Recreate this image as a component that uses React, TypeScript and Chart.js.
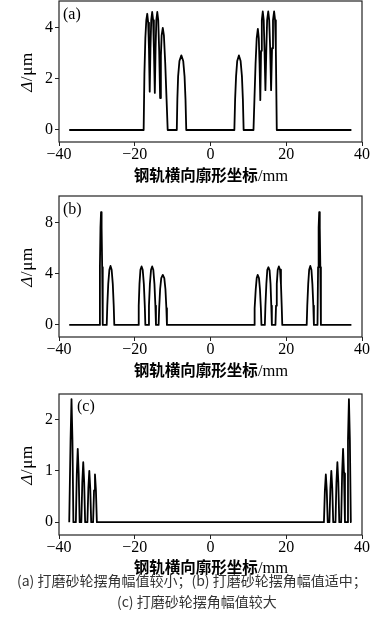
import React, { useEffect, useRef } from "react";
import { Chart, registerables } from "chart.js";

Chart.register(...registerables);

// ---------- data ----------
const xTickValues = [-40, -20, 0, 20, 40];

const aX = [
  -37.3, -17.65, -17.45, -17.2, -16.95, -16.7, -16.45, -16.25, -16.05, -15.85, -15.65, -15.4, -15.15, -14.95, -14.7,
  -14.5, -14.3, -14.05, -13.8, -13.55, -13.3, -13.1, -12.9, -12.6, -12.3, -11.95, -11.6, -11.3,
  -8.9, -8.75, -8.55, -8.2, -7.7, -7.2, -6.85, -6.6, -6.4,
  6.3, 6.5, 6.75, 7.05, 7.5, 7.95, 8.3, 8.55, 8.75,
  11.35, 11.6, 11.9, 12.2, 12.5, 12.75, 12.95, 13.15, 13.35, 13.55, 13.8, 14.05, 14.25, 14.5, 14.75, 14.95, 15.25,
  15.5, 15.75, 16.0, 16.25, 16.5, 16.8, 17.05, 17.25, 17.5, 37.2,
];
const aY = [
  0, 0, 2.2, 3.6, 4.3, 4.55, 4.2, 3.2, 1.5, 3.2, 4.3, 4.62, 4.3, 3.2, 1.45,
  3.2, 4.3, 4.62, 4.3, 3.1, 1.25, 2.9, 3.7, 4.0, 3.7, 2.6, 1.2, 0,
  0, 1.2, 2.1, 2.7, 2.92, 2.7, 2.1, 1.2, 0,
  0, 1.2, 2.1, 2.7, 2.92, 2.7, 2.1, 1.2, 0,
  0, 1.2, 2.6, 3.6, 3.96, 3.6, 2.6, 1.17, 3.1, 4.3, 4.64, 4.3, 3.2, 1.56, 3.2, 4.3, 4.64,
  4.3, 3.2, 1.56, 3.2, 4.3, 4.64, 4.3, 3.2, 0, 0,
];
const aTicks = [0, 2, 4];

const bX = [
  -37.3, -29.35, -29.2, -29.05, -28.9, -28.75, -28.6, -28.45,
  -27.4, -27.25, -27.0, -26.7, -26.4, -26.1, -25.8, -25.55, -25.4,
  -19.1, -18.95, -18.75, -18.5, -18.2, -17.9, -17.6, -17.35, -17.2,
  -16.4, -16.25, -16.0, -15.7, -15.4, -15.1, -14.8, -14.55, -14.4,
  -13.7, -13.55, -13.3, -13.0, -12.6, -12.2, -11.9, -11.65, -11.5,
  11.5, 11.65, 11.95, 12.2, 12.45, 12.8, 13.05, 13.3, 13.45,
  14.35, 14.5, 14.75, 15.0, 15.3, 15.6, 15.85, 16.05, 16.2,
  17.15, 17.3, 17.5, 17.75, 18.05, 18.35, 18.6, 18.8, 18.95,
  25.4, 25.55, 25.8, 26.05, 26.35, 26.65, 26.9, 27.15, 27.3,
  28.25, 28.4, 28.55, 28.7, 28.85, 29.0, 29.15, 37.2,
];
const bY = [
  0, 0, 4.5, 7.6, 8.8, 7.6, 4.5, 0,
  0, 1.5, 3.2, 4.3, 4.6, 4.3, 3.2, 1.5, 0,
  0, 1.5, 3.2, 4.3, 4.56, 4.3, 3.2, 1.5, 0,
  0, 1.5, 3.2, 4.3, 4.56, 4.3, 3.2, 1.5, 0,
  0, 1.3, 2.8, 3.65, 3.9, 3.65, 2.8, 1.3, 0,
  0, 1.3, 2.8, 3.65, 3.9, 3.65, 2.8, 1.3, 0,
  0, 1.5, 3.2, 4.3, 4.5, 4.25, 3.2, 1.5, 0,
  0, 1.5, 3.2, 4.3, 4.56, 4.3, 3.2, 1.5, 0,
  0, 1.5, 3.2, 4.3, 4.6, 4.3, 3.2, 1.5, 0,
  0, 4.5, 7.6, 8.8, 7.6, 4.5, 0, 0,
];
const bTicks = [0, 4, 8];

const cX = [
  -37.3, -37.2, -36.95, -36.7, -36.45, -36.2,
  -35.55, -35.3, -35.05, -34.8, -34.55,
  -34.1, -33.85, -33.6, -33.35, -33.1,
  -32.5, -32.25, -32.0, -31.75, -31.5,
  -31.0, -30.75, -30.5, -30.25, -30.0,
  29.95, 30.2, 30.45, 30.7, 30.95,
  31.4, 31.65, 31.9, 32.15, 32.4,
  33.0, 33.25, 33.5, 33.75, 34.0,
  34.5, 34.75, 35.0, 35.25, 35.5,
  36.05, 36.3, 36.55, 36.8, 37.05, 37.2,
];
const cY = [
  0, 0, 1.6, 2.4, 1.6, 0,
  0, 0.95, 1.43, 0.95, 0,
  0, 0.78, 1.17, 0.78, 0,
  0, 0.66, 1.0, 0.66, 0,
  0, 0.62, 0.93, 0.62, 0,
  0, 0.62, 0.93, 0.62, 0,
  0, 0.66, 1.0, 0.66, 0,
  0, 0.78, 1.17, 0.78, 0,
  0, 0.95, 1.43, 0.95, 0,
  0, 1.6, 2.4, 1.6, 0, 0,
];
const cTicks = [0, 1, 2];

const xTitleCJK = "钢轨横向廓形坐标";
const xTitleUnit = "/mm";
const caption1 = "(a) 打磨砂轮摆角幅值较小；(b) 打磨砂轮摆角幅值适中；";
const caption2 = "(c) 打磨砂轮摆角幅值较大";

// ---------- styles ----------
const W = 385;
const CH = 190;
const SERIF = '"Liberation Serif", "Times New Roman", serif';

const boxPlugin = {
  id: "boxBorder",
  afterDraw(chart: any) {
    const { ctx, chartArea } = chart;
    ctx.save();
    ctx.strokeStyle = "#222";
    ctx.lineWidth = 1.2;
    ctx.strokeRect(chartArea.left, chartArea.top, chartArea.right - chartArea.left, chartArea.bottom - chartArea.top);
    ctx.restore();
  },
};

function fmt(v: number) {
  return v < 0 ? "\u2212" + Math.abs(v) : String(v);
}

type PanelProps = {
  xs: number[];
  ys: number[];
  yMin: number;
  yMax: number;
  yTicks: number[];
};

function Panel({ xs, ys, yMin, yMax, yTicks }: PanelProps) {
  const ref = useRef<HTMLCanvasElement | null>(null);
  useEffect(() => {
    if (!ref.current) return;
    const data = xs.map((x, i) => ({ x, y: ys[i] }));
    const chart = new Chart(ref.current, {
      type: "line",
      data: {
        datasets: [
          {
            data,
            borderColor: "#000",
            borderWidth: 1.8,
            pointRadius: 0,
            fill: false,
            tension: 0,
            borderJoinStyle: "round",
          } as any,
        ],
      },
      options: {
        animation: false,
        responsive: false,
        events: [],
        layout: { padding: { left: 0, right: W - 362, top: 1, bottom: 0 } },
        plugins: { legend: { display: false }, tooltip: { enabled: false } },
        scales: {
          x: {
            type: "linear",
            min: -40,
            max: 40,
            afterBuildTicks: (s: any) => {
              s.ticks = xTickValues.map((v) => ({ value: v }));
            },
            afterFit: (s: any) => {
              s.height = CH - 142;
              s.paddingLeft = 0;
              s.paddingRight = 0;
            },
            border: { display: false },
            grid: { drawOnChartArea: false, drawTicks: true, tickLength: 4, color: "#222", lineWidth: 1 },
            ticks: {
              color: "#000",
              padding: -1,
              maxRotation: 0,
              font: { family: SERIF, size: 16 },
              callback: (v: any) => fmt(Number(v)),
            },
          },
          y: {
            type: "linear",
            min: yMin,
            max: yMax,
            afterBuildTicks: (s: any) => {
              s.ticks = yTicks.map((v) => ({ value: v }));
            },
            afterFit: (s: any) => {
              s.width = 59;
              s.paddingTop = 0;
              s.paddingBottom = 0;
            },
            border: { display: false },
            grid: { drawOnChartArea: false, drawTicks: true, tickLength: 4, color: "#222", lineWidth: 1 },
            ticks: {
              color: "#000",
              padding: 2,
              font: { family: SERIF, size: 16 },
              callback: (v: any) => fmt(Number(v)),
            },
          },
        },
      },
      plugins: [boxPlugin],
    } as any);
    return () => chart.destroy();
  }, [xs, ys, yMin, yMax, yTicks]);
  return <canvas ref={ref} width={W} height={CH} style={{ display: "block", width: W, height: CH }} />;
}

function YTitle({ cy }: { cy: number }) {
  return (
    <div
      style={{
        position: "absolute",
        left: 27 - 50,
        top: cy - 10,
        width: 100,
        height: 20,
        lineHeight: "20px",
        textAlign: "center",
        transform: "rotate(-90deg)",
        fontFamily: SERIF,
        fontSize: 17,
        color: "#000",
        whiteSpace: "nowrap",
        letterSpacing: 0.6,
      }}
    >
      <span style={{ fontStyle: "italic" }}>Δ</span>/μm
    </div>
  );
}

function XTitle({ cy }: { cy: number }) {
  return (
    <div
      style={{
        position: "absolute",
        left: 211 - 100,
        top: cy - 11,
        width: 200,
        height: 22,
        lineHeight: "22px",
        textAlign: "center",
        color: "#000",
        whiteSpace: "nowrap",
      }}
    >
      <span style={{ fontFamily: '"Noto Sans CJK SC", sans-serif', fontWeight: 700, fontSize: 15.5 }}>{xTitleCJK}</span>
      <span style={{ fontFamily: SERIF, fontSize: 16.5 }}>{xTitleUnit}</span>
    </div>
  );
}

function Label({ text, x, cy }: { text: string; x: number; cy: number }) {
  return (
    <div
      style={{
        position: "absolute",
        left: x,
        top: cy - 10,
        height: 20,
        lineHeight: "20px",
        fontFamily: SERIF,
        fontSize: 16,
        color: "#000",
        whiteSpace: "nowrap",
      }}
    >
      {text}
    </div>
  );
}

const captionStyle: React.CSSProperties = {
  position: "absolute",
  height: 20,
  lineHeight: "20px",
  fontFamily: '"Noto Sans CJK SC", "Noto Sans", sans-serif',
  fontSize: 14,
  color: "#333",
  whiteSpace: "nowrap",
};

export default function App() {
  return (
    <div style={{ position: "absolute", left: 0, top: 0, width: W, height: 624, background: "#fff", overflow: "hidden" }}>
      <div style={{ position: "absolute", left: 0, top: 0 }}>
        <Panel xs={aX} ys={aY} yMin={-0.47} yMax={5.05} yTicks={aTicks} />
      </div>
      <div style={{ position: "absolute", left: 0, top: 195 }}>
        <Panel xs={bX} ys={bY} yMin={-0.94} yMax={10.05} yTicks={bTicks} />
      </div>
      <div style={{ position: "absolute", left: 0, top: 393 }}>
        <Panel xs={cX} ys={cY} yMin={-0.25} yMax={2.5} yTicks={cTicks} />
      </div>
      <YTitle cy={72} />
      <YTitle cy={267} />
      <YTitle cy={465} />
      <XTitle cy={174} />
      <XTitle cy={369} />
      <XTitle cy={566} />
      <Label text="(a)" x={63} cy={14} />
      <Label text="(b)" x={63} cy={209} />
      <Label text="(c)" x={77} cy={406} />
      <div style={{ ...captionStyle, left: 17, top: 570 }}>{caption1}</div>
      <div style={{ ...captionStyle, left: 117, top: 591 }}>{caption2}</div>
    </div>
  );
}
